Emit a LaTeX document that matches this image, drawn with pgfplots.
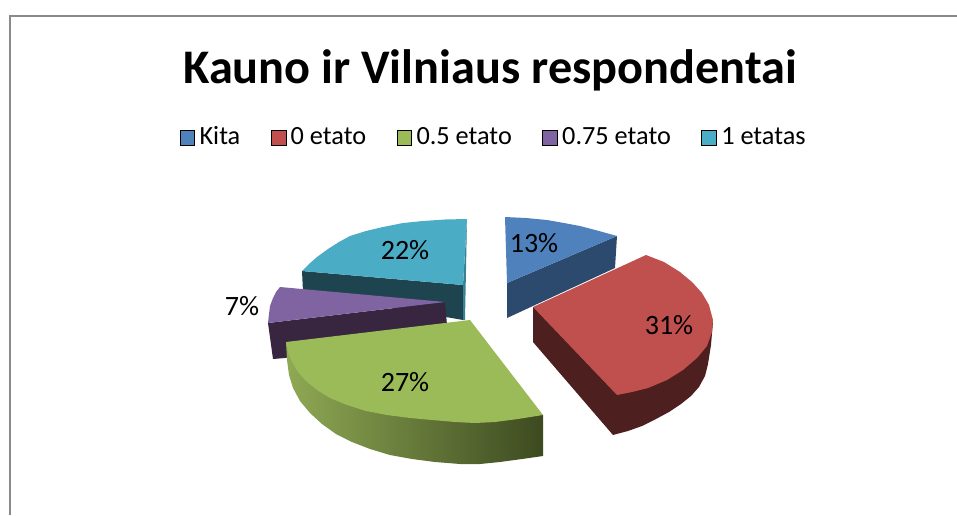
\documentclass[border=0pt]{standalone}
\usepackage{fontspec}
\setmainfont{Carlito}
\usepackage{pgfplots}
\pgfplotsset{compat=1.18}

\definecolor{kita}{HTML}{4F81BD}
\definecolor{kitaside}{HTML}{2C4A6E}
\definecolor{nulis}{HTML}{C0504D}
\definecolor{nulisside}{HTML}{4D1F1E}
\definecolor{puse}{HTML}{9BBB59}
\definecolor{puseleft}{HTML}{8FA954}
\definecolor{puseright}{HTML}{3D4A20}
\definecolor{trys}{HTML}{8064A2}
\definecolor{trysside}{HTML}{38253F}
\definecolor{vienas}{HTML}{4BACC6}
\definecolor{vienasside}{HTML}{1E4450}
\definecolor{remas}{HTML}{8A8A8A}

\begin{document}
\begin{tikzpicture}
\begin{axis}[
    scale only axis,
    width=717.75pt,
    height=386.25pt,
    xmin=0, xmax=957,
    ymin=0, ymax=515,
    y dir=reverse,
    hide axis,
    title={\fontsize{36.2}{40}\selectfont\bfseries Kauno ir Vilniaus respondentai},
    title style={at={(axis cs:490,78)}, anchor=center, inner sep=0pt},
    legend columns=5,
    legend cell align=left,
    legend style={
        at={(axis cs:495,138)}, anchor=center,
        draw=none, fill=none, inner sep=0pt,
        font=\fontsize{19.7}{22}\selectfont,
        nodes={inner xsep=3.5pt, inner ysep=0pt, text height=9pt, text depth=0pt},
        /tikz/every even column/.append style={column sep=19.4pt},
    },
    legend image code/.code={
        \fill[#1] (0pt,-5.5pt) rectangle (11pt,5.5pt);
    },
]
% legend
\addlegendimage{fill=kita}
\addlegendentry{Kita}
\addlegendimage{fill=nulis}
\addlegendentry{0 etato}
\addlegendimage{fill=puse}
\addlegendentry{0.5 etato}
\addlegendimage{fill=trys}
\addlegendentry{0.75 etato}
\addlegendimage{fill=vienas}
\addlegendentry{1 etatas}

% frame
\addplot[remas, line width=1.5pt, forget plot] coordinates {(10,515) (10,15.5) (957,15.5)};

% 1 etatas
\addplot[fill=vienasside, draw=none, forget plot] coordinates {
    (302,271) (463,285) (463,320) (303,292)
} --cycle;
\addplot[fill=vienas!75!black, draw=none, forget plot] coordinates {
    (467,219) (463,285) (463,320) (465,320)
} --cycle;
\addplot[fill=vienas, draw=none, forget plot] coordinates {
    (302,271) (309,264) (317,257) (328,249) (339,242) (350,236) (366,231)
    (383,227) (403,223) (423,221) (445,219.5) (467,219) (463,285)
} --cycle;

% 0.75 etato
\addplot[fill=trysside, draw=none, forget plot] coordinates {
    (268,323) (445,302) (447,325) (285,358) (273,359)
} --cycle;
\addplot[fill=trys, draw=none, forget plot] coordinates {
    (280,287) (276,292) (273,298) (270,306) (269,314) (268,323) (445,302)
} --cycle;

% 0.5 etato
\addplot[left color=puseleft, right color=puseright, draw=none, forget plot] coordinates {
    (286,342) (287,360) (289,375) (293,388) (300,401) (310,413) (322,424) (336,434)
    (352,442) (370,449) (390,455) (412,459) (435,462) (460,464) (480,464)
    (500,462) (522,459) (543,456) (543,415)
} --cycle;
\addplot[fill=puse, draw=none, forget plot] coordinates {
    (470,320) (286,342) (288,352) (292,362) (298,372) (306,381) (317,390) (330,398)
    (347,405) (366,411) (387,415) (410,418) (432,420) (455,422) (475,423)
    (495,422) (518,419) (543,415)
} --cycle;

% Kita
\addplot[fill=kitaside, draw=none, forget plot] coordinates {
    (507,283) (507,318) (615,268) (617,236)
} --cycle;
\addplot[fill=kita, draw=none, forget plot] coordinates {
    (505,217) (526,218) (547,220) (564,223) (580,226) (599,231) (617,236) (507,283)
} --cycle;

% 0 etato
\addplot[fill=nulisside, draw=none, forget plot] coordinates {
    (533,307) (533,342) (613,435) (628,431) (642,426) (656,419) (669,412) (681,404)
    (691,396) (699,387) (705,376) (708,364) (711,345) (713,322)
} --cycle;
\addplot[fill=nulis, draw=none, forget plot] coordinates {
    (533,307) (646,255) (664,262) (680,272) (692,282) (702,293) (709,305)
    (713,320) (712,332) (707,346) (697,358) (683,370) (667,380) (648,388)
    (632,392) (617,395)
} --cycle;

% percentages
\addplot[
    only marks, mark=none, forget plot,
    nodes near coords, point meta=explicit symbolic,
    every node near coord/.style={anchor=center, inner sep=0pt, font=\fontsize{21}{25}\selectfont},
] table[meta=label] {
    x y label
    534 243 13\%
    669 325 31\%
    405 382 27\%
    405 250 22\%
    242 306 7\%
};
\end{axis}
\path (0,0) rectangle (717.75pt,386.25pt);
\end{tikzpicture}
\end{document}
